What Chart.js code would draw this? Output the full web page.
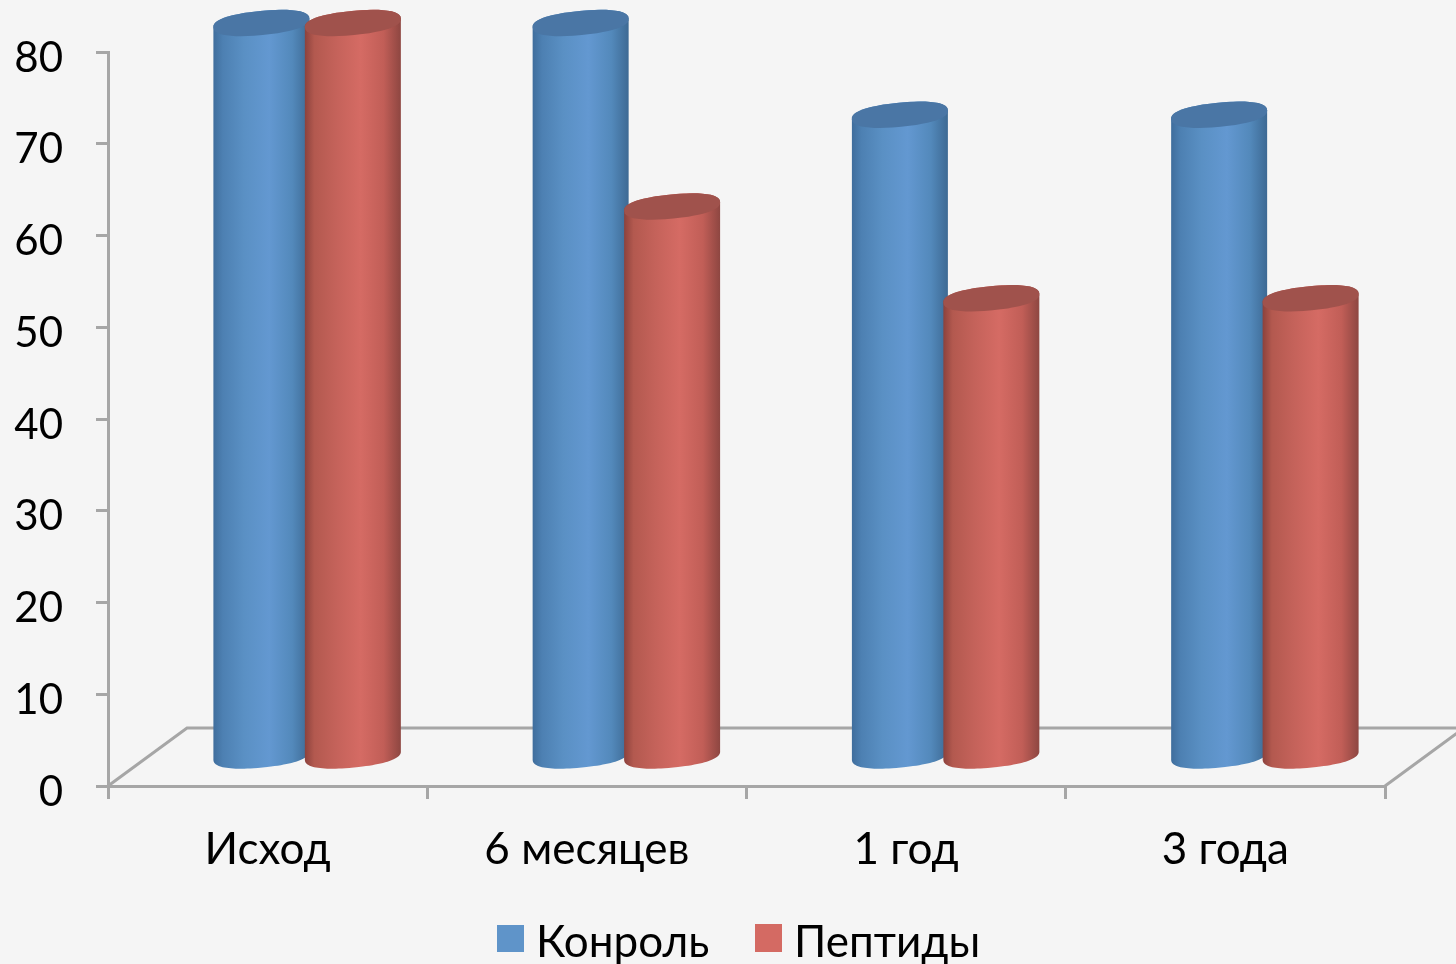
<!DOCTYPE html>
<html><head><meta charset="utf-8">
<style>html,body{margin:0;padding:0;background:#f5f5f5;overflow:hidden}canvas{display:block}</style>
<script src="https://cdn.jsdelivr.net/npm/chart.js@4"></script>
</head><body><canvas id="c" width="1456" height="964"></canvas>
<script>
const categories = ['Исход', '6 месяцев', '1 год', '3 года'];
const control = [80, 80, 70, 70];
const peptides = [80, 60, 50, 50];
const seriesNames = ['Конроль', 'Пептиды'];
const yTicks = [0, 10, 20, 30, 40, 50, 60, 70, 80];

const FONT = 'Lato, Carlito, "Open Sans", sans-serif';
const AXIS = '#a6a6a6';
const DX = 79, DY = 58, THETA = -5.5 * Math.PI / 180, MINOR = 12, SHARP = 0.85;
const looks = [
  { fill: '#5f94c9', cap: '#4a76a5', stops: ['#3f6d9c','#4d80b2','#5a90c4','#6398d1','#5389bb','#3d6993'] },
  { fill: '#d46a63', cap: '#a0524c', stops: ['#8b413c','#b3594f','#c4625a','#d56b64','#c15e57','#8d4641'] }
];
const stopAt = [0, 0.1, 0.32, 0.58, 0.82, 1];

function rim(ctx, cx, cy, a, b, from, to) {
  const c = Math.cos(THETA), s = Math.sin(THETA), n = 48;
  for (let i = 0; i <= n; i++) {
    const t = from + (to - from) * i / n, ct = Math.cos(t), st = Math.sin(t);
    const u = a * Math.sign(ct) * Math.pow(Math.abs(ct), SHARP);
    const v = b * Math.sign(st) * Math.pow(Math.abs(st), SHARP);
    ctx.lineTo(cx + u * c - v * s, cy + u * s + v * c);
  }
}

const cylinders = {
  id: 'cylinders',
  beforeDatasetsDraw(chart) {
    const { ctx } = chart, b = chart.chartArea.bottom;
    const l = chart.chartArea.left, r = chart.chartArea.right;
    ctx.save();
    ctx.strokeStyle = AXIS; ctx.lineWidth = 3;
    ctx.beginPath();
    ctx.moveTo(l, b); ctx.lineTo(l + DX, b - DY); ctx.lineTo(1456, b - DY);
    ctx.moveTo(r, b); ctx.lineTo(r + DX, b - DY);
    ctx.stroke();
    ctx.restore();
    const dpx = DX / 2, dpy = DY / 2;
    chart.data.datasets.forEach((ds, idx) => {
      const look = looks[idx];
      chart.getDatasetMeta(idx).data.forEach(el => {
        const p = el.getProps(['x', 'y', 'base', 'width'], true);
        const cx = p.x + dpx, top = p.y - dpy, bot = p.base - dpy, a = p.width / 2 + 0.2;
        const g = ctx.createLinearGradient(cx - a, 0, cx + a, 0);
        look.stops.forEach((c, i) => g.addColorStop(stopAt[i], c));
        ctx.save();
        ctx.beginPath();
        rim(ctx, cx, bot, a, MINOR, 0, Math.PI);
        rim(ctx, cx, top, a, MINOR, Math.PI, 2 * Math.PI);
        ctx.closePath();
        ctx.fillStyle = g; ctx.fill();
        ctx.beginPath();
        rim(ctx, cx, top, a, MINOR, 0, 2 * Math.PI);
        ctx.closePath();
        ctx.fillStyle = look.cap; ctx.fill();
        ctx.restore();
      });
    });
  },
  beforeDatasetDraw() { return false; },
  afterDraw(chart) {
    const { ctx } = chart;
    const items = [[497, 925, 27, 27, 536], [755, 924, 27, 28, 794]];
    ctx.save();
    ctx.font = '44px ' + FONT; ctx.textBaseline = 'alphabetic'; ctx.textAlign = 'left';
    items.forEach((it, i) => {
      ctx.fillStyle = looks[i].fill;
      ctx.fillRect(it[0], it[1], it[2], it[3]);
      ctx.fillStyle = '#000';
      ctx.fillText(seriesNames[i], it[4], 957);
    });
    ctx.restore();
  }
};

new Chart(document.getElementById('c'), {
  type: 'bar',
  data: {
    labels: categories,
    datasets: [
      { label: seriesNames[0], data: control, backgroundColor: looks[0].fill },
      { label: seriesNames[1], data: peptides, backgroundColor: looks[1].fill }
    ]
  },
  plugins: [cylinders],
  options: {
    responsive: false, animation: false,
    layout: { padding: { top: 52, right: 71, left: 0, bottom: 0 } },
    datasets: { bar: { categoryPercentage: 0.573, barPercentage: 1.05 } },
    plugins: { legend: { display: false }, tooltip: { enabled: false } },
    scales: {
      x: {
        afterFit(s) { s.height = 178; },
        border: { color: AXIS, width: 3 },
        grid: { offset: true, drawOnChartArea: false, color: AXIS, lineWidth: 3, tickLength: 13 },
        ticks: { color: '#000', font: { family: FONT, size: 44 }, padding: 24, maxRotation: 0 }
      },
      y: {
        min: 0, max: 80,
        afterBuildTicks(s) { s.ticks = yTicks.map(v => ({ value: v })); },
        afterFit(s) { s.width = 108; s.paddingTop = 0; s.paddingBottom = 0; },
        border: { color: AXIS, width: 3 },
        grid: { drawOnChartArea: false, color: AXIS, lineWidth: 3, tickLength: 12 },
        ticks: { color: '#000', font: { family: FONT, size: 42 }, padding: 33, labelOffset: 6 }
      }
    }
  }
});
</script></body></html>
